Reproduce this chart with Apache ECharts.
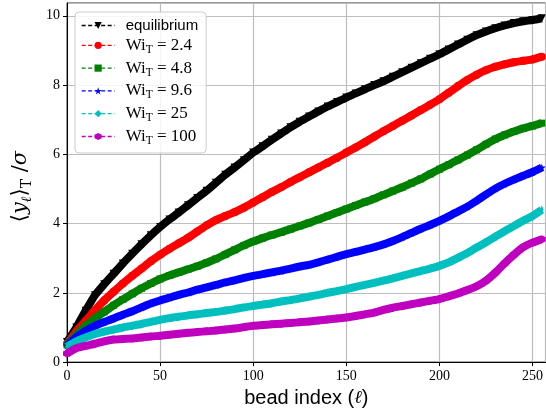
<!DOCTYPE html>
<html><head><meta charset="utf-8">
<script src="https://cdn.jsdelivr.net/npm/echarts@6/dist/echarts.min.js"></script>
<style>html,body{margin:0;padding:0;background:#fff}#c{width:546px;height:413px}</style>
</head><body><div id="c"></div>
<script>
const beads = [0,5,10,15,20,25,30,35,40,45,50,55,60,65,70,75,80,85,90,95,100,105,110,115,120,125,130,135,140,145,150,155,160,165,170,175,180,185,190,195,200,205,210,215,220,225,230,235,240,245,250,255];
const seriesNames = ['equilibrium','Wi_T = 2.4','Wi_T = 4.8','Wi_T = 9.6','Wi_T = 25','Wi_T = 100'];
const eqVals = [0.58,1.00,1.48,1.93,2.25,2.55,2.85,3.13,3.40,3.66,3.90,4.12,4.32,4.53,4.74,4.95,5.18,5.41,5.62,5.83,6.05,6.23,6.42,6.60,6.78,6.94,7.09,7.24,7.38,7.51,7.64,7.76,7.88,8.00,8.11,8.24,8.37,8.50,8.63,8.76,8.89,9.03,9.17,9.31,9.44,9.55,9.64,9.72,9.79,9.84,9.88,9.93];
const wi24Vals = [0.52,0.88,1.19,1.50,1.78,2.03,2.27,2.49,2.70,2.91,3.10,3.27,3.43,3.59,3.77,3.95,4.10,4.22,4.33,4.46,4.61,4.76,4.91,5.05,5.20,5.34,5.48,5.62,5.76,5.90,6.05,6.20,6.35,6.51,6.67,6.82,6.97,7.12,7.28,7.43,7.59,7.78,7.97,8.15,8.30,8.43,8.53,8.60,8.66,8.70,8.74,8.82];
const wi48Vals = [0.50,0.79,1.05,1.27,1.45,1.64,1.81,1.97,2.13,2.27,2.40,2.50,2.59,2.68,2.77,2.87,2.98,3.11,3.24,3.37,3.48,3.58,3.67,3.75,3.84,3.93,4.02,4.12,4.22,4.32,4.42,4.52,4.62,4.72,4.83,4.94,5.05,5.17,5.29,5.43,5.57,5.70,5.84,5.98,6.13,6.29,6.44,6.56,6.66,6.75,6.82,6.90];
const wi96Vals = [0.48,0.72,0.90,1.05,1.16,1.26,1.37,1.47,1.58,1.69,1.78,1.86,1.94,2.01,2.09,2.16,2.23,2.30,2.36,2.43,2.49,2.54,2.59,2.64,2.70,2.76,2.81,2.88,2.96,3.04,3.12,3.18,3.25,3.32,3.40,3.50,3.61,3.73,3.85,3.96,4.08,4.21,4.35,4.49,4.66,4.84,5.01,5.15,5.27,5.38,5.49,5.62];
const wi25Vals = [0.44,0.60,0.71,0.81,0.88,0.94,1.00,1.05,1.10,1.16,1.22,1.27,1.31,1.35,1.38,1.42,1.45,1.49,1.53,1.58,1.62,1.66,1.70,1.75,1.79,1.84,1.89,1.94,2.00,2.05,2.11,2.17,2.23,2.29,2.35,2.42,2.49,2.56,2.63,2.70,2.78,2.88,3.01,3.15,3.31,3.46,3.62,3.78,3.93,4.08,4.22,4.40];
const wi100Vals = [0.25,0.40,0.47,0.53,0.60,0.65,0.67,0.68,0.71,0.74,0.76,0.79,0.82,0.85,0.87,0.89,0.91,0.94,0.97,1.01,1.05,1.07,1.09,1.11,1.13,1.15,1.17,1.20,1.23,1.26,1.29,1.33,1.38,1.43,1.51,1.57,1.62,1.67,1.72,1.77,1.82,1.90,1.98,2.08,2.19,2.35,2.58,2.85,3.10,3.32,3.45,3.55];
const xTicks = [0,50,100,150,200,250];
const yTicks = [0,2,4,6,8,10];

const allVals = [eqVals, wi24Vals, wi48Vals, wi96Vals, wi25Vals, wi100Vals];
const colors = ['#000000','#ff0000','#008000','#0000ff','#00bfbf','#bf00bf'];
const symbols = [
  'path://M0,0L10,0L5,9Z',
  'circle',
  'rect',
  'path://M5,0L6.2,3.6L10,3.6L7,5.9L8.1,9.5L5,7.3L1.9,9.5L3,5.9L0,3.6L3.8,3.6Z',
  'path://M3,0L6,5L3,10L0,5Z',
  'path://M5,0L9.33,2.5L9.33,7.5L5,10L0.67,7.5L0.67,2.5Z'
];
const symSizes = [8,8,7,8,[6,9],8];

const series = seriesNames.map((n,k)=>({
  name: n, type: 'line',
  data: beads.map((b,i)=>[b, allVals[k][i]]),
  symbol: symbols[k], symbolSize: symSizes[k], showSymbol: true,
  symbolKeepAspect: k===4,
  color: colors[k],
  itemStyle: {color: colors[k]},
  lineStyle: {color: colors[k], width: 8},
  smooth: 0.2, animation: false, z: 2+k
}));

const serif = 'Liberation Serif';
const rich = {
  n: {fontFamily: serif, fontSize: 17, color:'#000', lineHeight: 20},
  s: {fontFamily: serif, fontSize: 11.5, color:'#000', lineHeight: 11, padding:[9,0,0,0]},
  e: {fontFamily: 'Liberation Sans', fontSize: 15, color:'#000', lineHeight: 20}
};

const chart = echarts.init(document.getElementById('c'), null, {renderer:'canvas'});
chart.setOption({
  animation: false,
  backgroundColor: '#fff',
  grid: {left: 67, top: 3, right: -3, bottom: 50, show: true, borderColor: '#333', borderWidth: 1, backgroundColor: 'transparent'},
  xAxis: {
    type: 'value', min: 0, max: 257, interval: 50,
    name: '{a|bead index (}{b|ℓ}{a|)}', nameLocation: 'middle', nameGap: 25,
    nameTextStyle: {rich: {
      a: {fontFamily: 'Liberation Sans', fontSize: 20, color: '#000'},
      b: {fontFamily: 'DejaVu Serif', fontStyle: 'italic', fontSize: 18, color: '#000'}
    }},
    axisLine: {show: true, onZero: false, lineStyle: {color: '#000', width: 1}},
    axisTick: {show: true, length: 4, lineStyle: {color: '#000'}},
    axisLabel: {margin: 7, showMaxLabel: false, fontFamily: serif, fontSize: 14, color: '#000',
      formatter: v => xTicks.includes(v) ? String(v) : ''},
    splitLine: {show: true, lineStyle: {color: '#bdbdbd', width: 1.2}}
  },
  yAxis: {
    type: 'value', min: 0, max: 10.37, interval: 2,
    name: '{a|⟨}{i|y}{s|ℓ}{a|⟩}{t|T}{a| /}{i|σ}{p|}', nameLocation: 'middle', nameGap: 33, nameRotate: 90,
    nameTextStyle: {rich: {
      a: {fontFamily: 'DejaVu Serif', fontSize: 21, color: '#000', lineHeight: 26},
      i: {fontFamily: 'DejaVu Serif', fontStyle: 'italic', fontSize: 21, color: '#000', lineHeight: 26},
      s: {fontFamily: 'DejaVu Serif', fontStyle: 'italic', fontSize: 14, color: '#000', lineHeight: 14, padding: [12,0,0,0]},
      t: {fontFamily: 'DejaVu Serif', fontSize: 14, color: '#000', lineHeight: 14, padding: [12,0,0,0]},
      p: {width: 8, lineHeight: 26}
    }},
    axisLine: {show: true, onZero: false, lineStyle: {color: '#000', width: 1}},
    axisTick: {show: true, length: 4, lineStyle: {color: '#000'}},
    axisLabel: {margin: 7, showMaxLabel: false, fontFamily: serif, fontSize: 14, color: '#000',
      formatter: v => yTicks.includes(v) ? String(v) : ''},
    splitLine: {show: true, lineStyle: {color: '#bdbdbd', width: 1.2}}
  },
  legend: {
    orient: 'vertical', left: 75, top: 12,
    data: seriesNames,
    backgroundColor: 'rgba(255,255,255,0.85)', borderColor: '#cccccc', borderWidth: 1, borderRadius: 4,
    padding: [6, 8, 6, 6],
    itemWidth: 33, itemHeight: 9, itemGap: 1.8,
    lineStyle: {width: 1.3, type: [4, 2.5]},
    textStyle: {rich: rich, padding: [0,0,0,6]},
    formatter: name => {
      if (name === 'equilibrium') return '{e|equilibrium}';
      const v = name.split('= ')[1];
      return '{n|Wi}{s|T}{n| = ' + v + '}';
    }
  },
  series: series
});
</script></body></html>
